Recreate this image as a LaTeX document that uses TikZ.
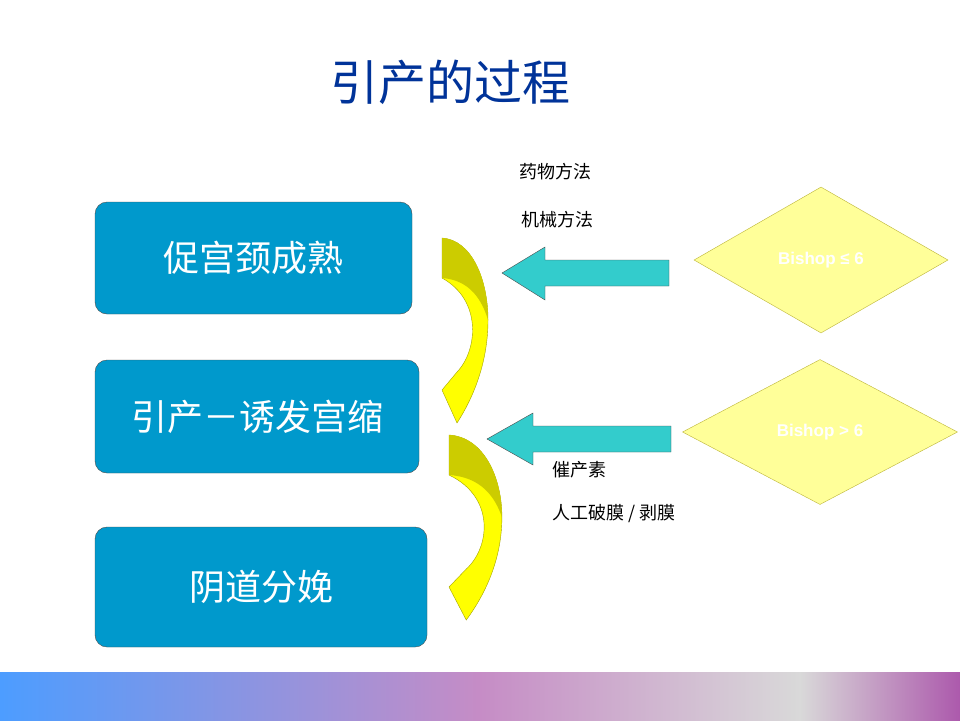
\documentclass[tikz,border=0pt]{standalone}
\usepackage{fontspec}
\setmainfont{Noto Sans CJK SC}
\setsansfont{Liberation Sans}
\usetikzlibrary{shapes.geometric}
\definecolor{boxblue}{HTML}{0099CC}
\definecolor{titleblue}{HTML}{003399}
\definecolor{cyanarrow}{HTML}{33CCCC}
\definecolor{paleyellow}{HTML}{FFFF99}
\definecolor{bendlight}{HTML}{FFFF00}
\definecolor{benddark}{HTML}{CCCC00}
\newcommand{\bendarrow}[2]{%
  \begin{scope}[shift={(#1)},xscale=#2]
    \fill[bendlight,draw=benddark!80!black,thin] (0,0) .. controls (30,2) and (46,42) .. (46,82)
      .. controls (46,122) and (33,157) .. (15,185) -- (0,152) -- (15,134)
      .. controls (36,112) and (40,62) .. (0,40) -- cycle;
    \fill[benddark] (0,0) .. controls (30,2) and (46,42) .. (46,82)
      .. controls (40,62) and (28,42) .. (0,40) -- cycle;
  \end{scope}}
\begin{document}
\begin{tikzpicture}[
    x = 1pt, y = -1pt,
    stagebox/.style = {draw = black!70, fill = boxblue, rounded corners = 12pt,
                       text = white, font = \fontsize{36}{40}\selectfont},
    bishop/.style = {diamond, draw = yellow!70!black, fill = paleyellow, aspect = 1.6,
                     inner sep = 0pt, text = white, font = \sffamily\bfseries\fontsize{17}{20}\selectfont},
    method/.style = {anchor = west, font = \fontsize{18}{22}\selectfont},
    pusharrow/.style = {fill = cyanarrow, draw = black!70, thin}
  ]
  \useasboundingbox (0,0) rectangle (960,720);
  \fill[white] (0,0) rectangle (960,720);

  % title
  \node[text = titleblue, font = \fontsize{48}{54}\selectfont] (title) at (450,82) {引产的过程};

  % stages
  \node[stagebox, minimum width = 317pt, minimum height = 112pt] (ripen) at (253.5,258) {促宫颈成熟};
  \node[stagebox, minimum width = 324pt, minimum height = 113pt] (induce) at (257,416.5) {引产－诱发宫缩};
  \node[stagebox, minimum width = 332pt, minimum height = 120pt] (deliver) at (261,587) {阴道分娩};

  % bishop score
  \node[bishop, minimum width = 254pt, minimum height = 146pt] (low) at (821,260) {Bishop ≤ 6};
  \node[bishop, minimum width = 275pt, minimum height = 145pt] (high) at (820,432) {Bishop > 6};

  % push arrows
  \path[pusharrow] (669,260) -- (545,260) -- (545,247) -- (502,273) -- (545,300) -- (545,286) -- (669,286) -- cycle;
  \path[pusharrow] (671,426) -- (533,426) -- (533,413) -- (487,439) -- (533,465) -- (533,452) -- (671,452) -- cycle;

  % bend arrows
  \bendarrow{442,238}{1}
  \bendarrow{449,435}{1.15}

  % methods
  \node[method] (drug) at (516,172) {药物方法};
  \node[method] (mech) at (518,220) {机械方法};
  \node[method] (oxy) at (549,470) {催产素};
  \node[method] (amni) at (549,514) {人工破膜 / 剥膜};

  % bottom band
  \shade[left color = blue!55!cyan!70, right color = violet!45] (0,672) rectangle (480,720);
  \shade[left color = violet!45, right color = black!15] (480,672) rectangle (800,720);
  \shade[left color = black!15, right color = violet!65] (800,672) rectangle (960,720);
\end{tikzpicture}
\end{document}
